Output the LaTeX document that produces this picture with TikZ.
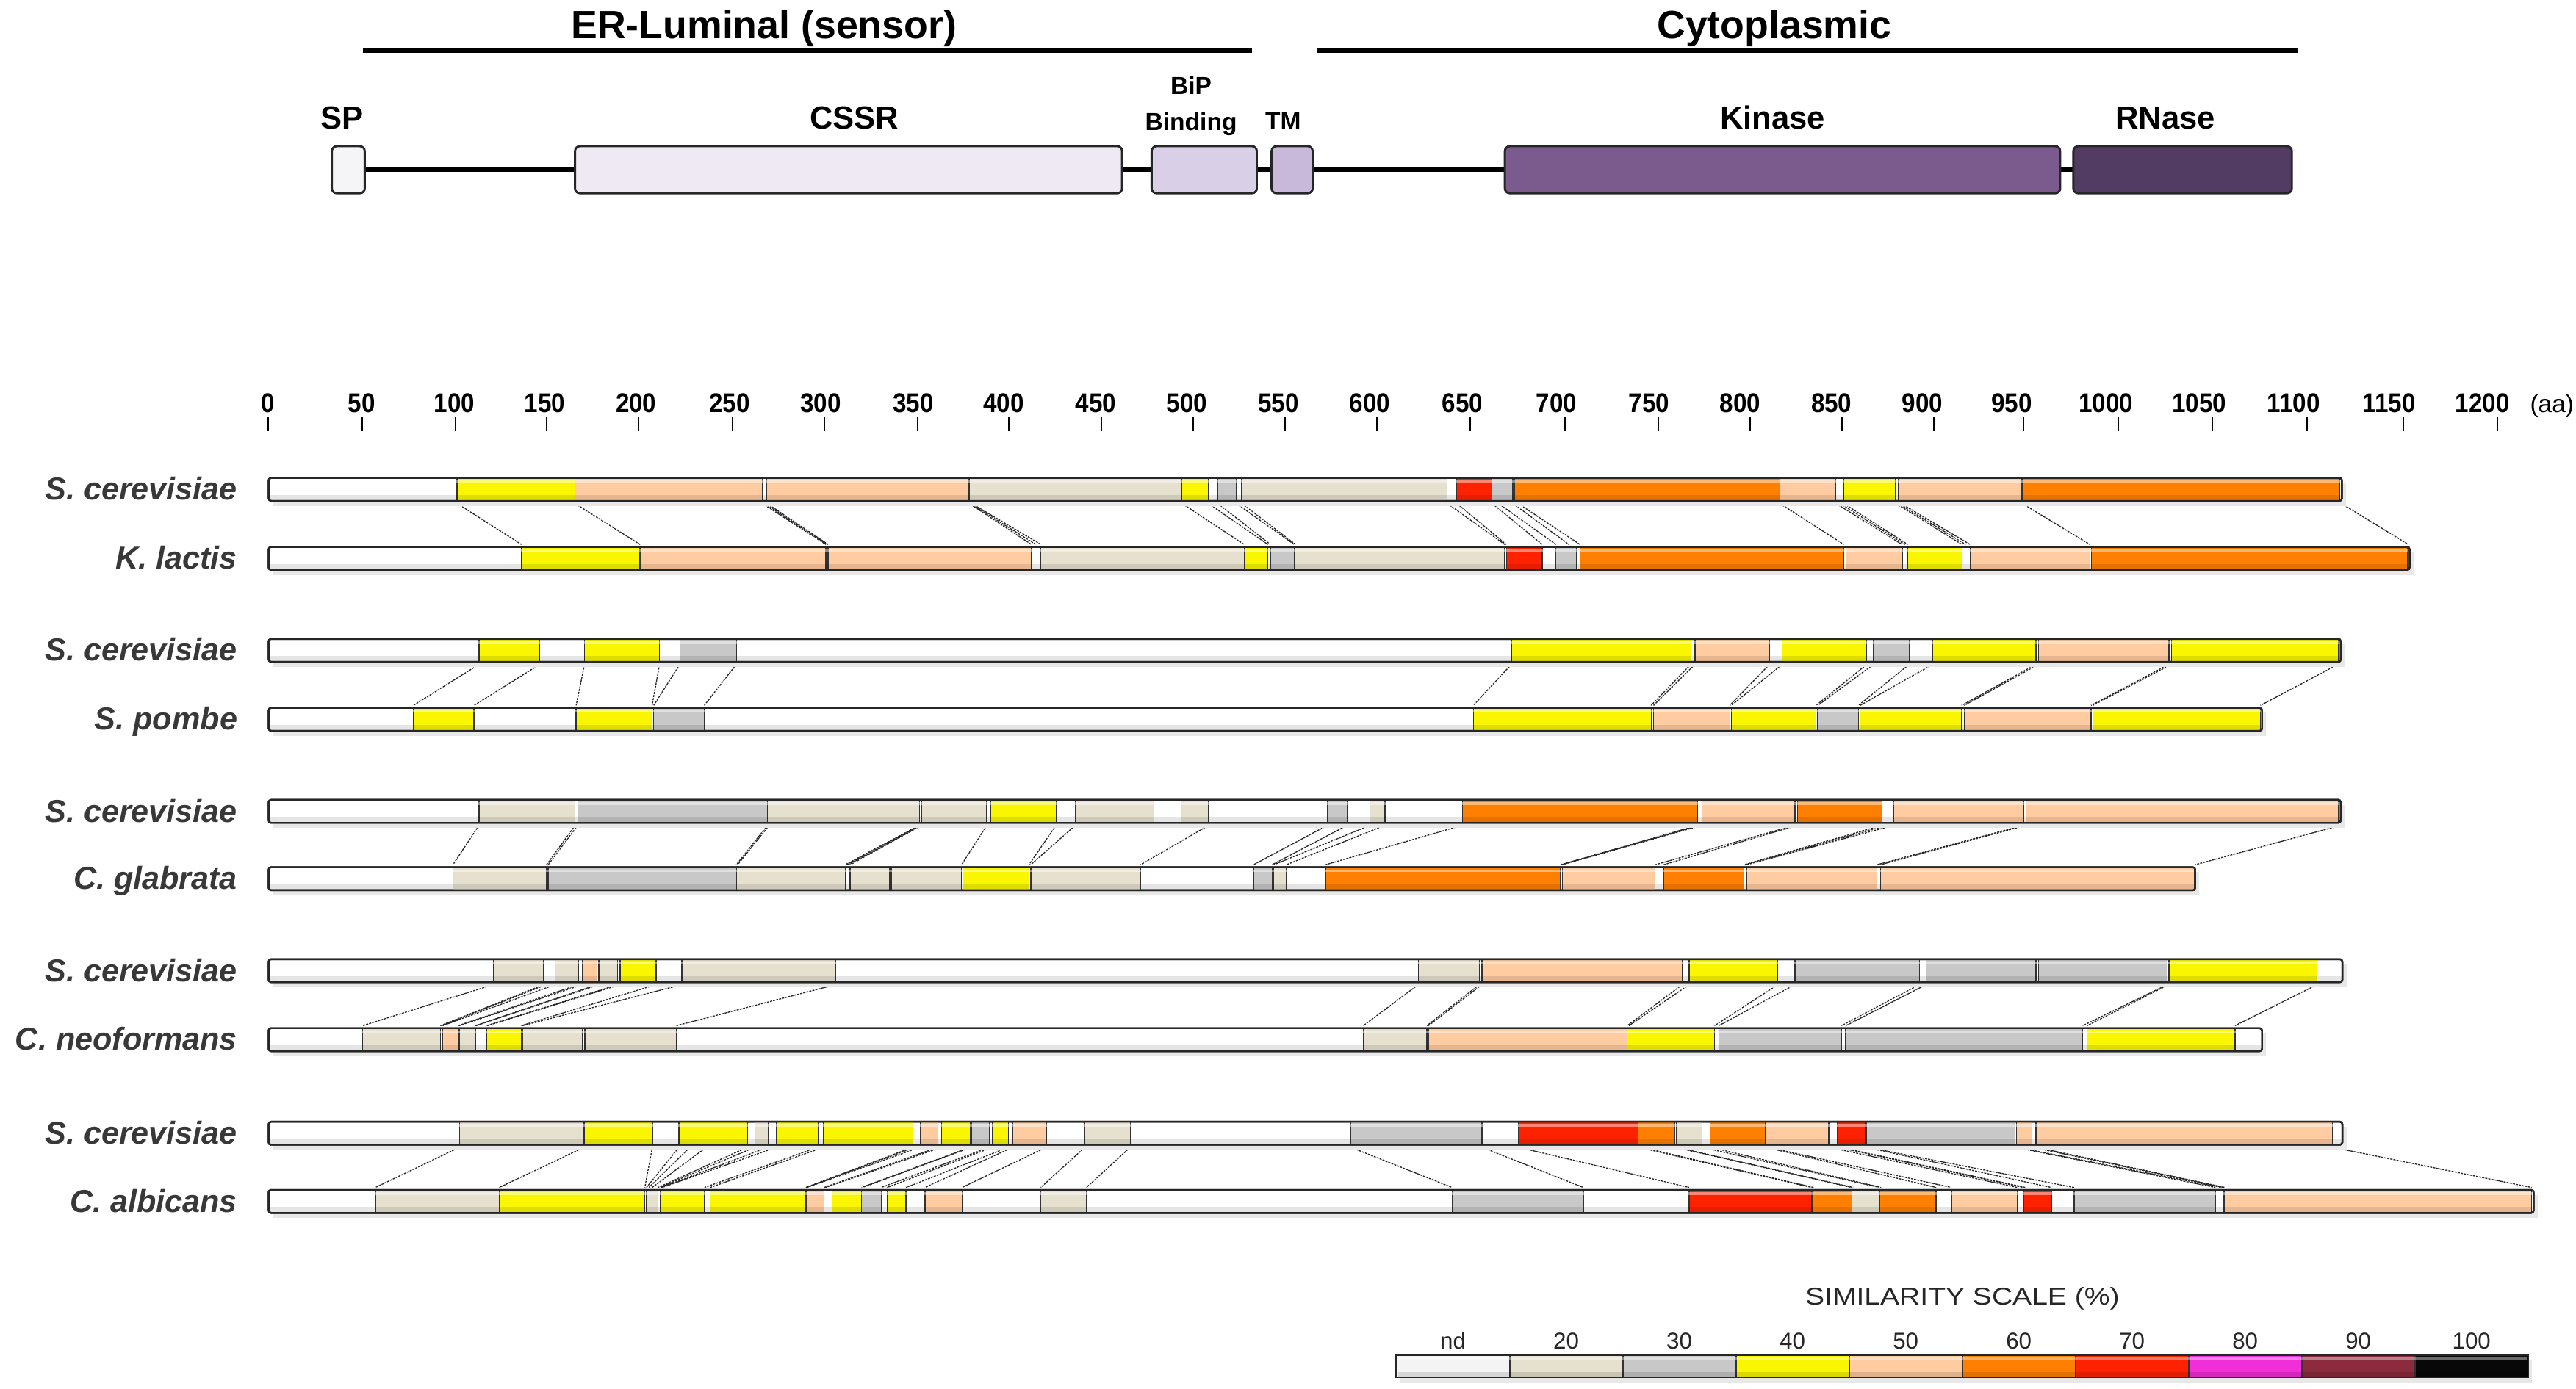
\documentclass[tikz,border=0pt]{standalone}
\usepackage{fontspec}
\setmainfont{Liberation Sans}
\newfontfamily\widefont[FakeStretch=1.18]{Liberation Sans}
\newfontfamily\narrowfont[FakeStretch=0.9]{Liberation Sans}
\definecolor{cN}{HTML}{F4F4F4}
\definecolor{cB}{HTML}{E6E0CE}
\definecolor{cG}{HTML}{C8C8C8}
\definecolor{cY}{HTML}{F9F600}
\definecolor{cP}{HTML}{FFCBA0}
\definecolor{cO}{HTML}{FF8000}
\definecolor{cR}{HTML}{FF2200}
\definecolor{cM}{HTML}{F22ED8}
\definecolor{cV}{HTML}{8B2B3D}
\definecolor{cK}{HTML}{080808}
\definecolor{dSP}{HTML}{F5F4F7}
\definecolor{dCS}{HTML}{EFE9F4}
\definecolor{dBP}{HTML}{D9CFE6}
\definecolor{dTM}{HTML}{C8B8DA}
\definecolor{dKI}{HTML}{7B5B8E}
\definecolor{dRN}{HTML}{533C63}
\tikzset{
  barline/.style={draw=black!85, line width=1.1pt},
  segline/.style={draw=black!80, line width=0.6pt},
  lnk/.style={draw=black!85, line width=0.6pt, dash pattern=on 1.3pt off 0.6pt},
  dombox/.style={draw=black!85, line width=1.3pt, rounded corners=3pt},
  species/.style={anchor=base east, font=\fontsize{19.3}{21}\selectfont\bfseries\itshape, text=black!78},
  ticklbl/.style={anchor=base, font=\narrowfont\fontsize{16.5}{18}\selectfont\bfseries},
  aalbl/.style={anchor=base west, font=\fontsize{15}{17}\selectfont},
  domlbl/.style={anchor=base, font=\fontsize{19.5}{22}\selectfont\bfseries},
  smalldom/.style={anchor=base, font=\fontsize{15}{17}\selectfont\bfseries},
  regionlbl/.style={anchor=base, font=\fontsize{24}{28}\selectfont\bfseries},
  leglbl/.style={anchor=base, font=\fontsize{14}{16}\selectfont, text=black!85},
  legtitle/.style={anchor=base, font=\widefont\fontsize{14.8}{17}\selectfont, text=black!85}
}
\newcommand\protbar[3]{%
  \fill[black!9] (166,#1-4) rectangle (#2+2.5,#1+10);
  \draw[barline,fill=white,rounded corners=1.5pt] (163.5,#1-7) rectangle (#2,#1+7);
  \foreach \xa/\xb/\cl in {#3}{\draw[segline,fill=\cl] (\xa,#1-7) rectangle (\xb,#1+7);}
  \fill[white,opacity=0.45] (164.5,#1-5.6) rectangle (#2-1,#1-4);
  \fill[black,opacity=0.10] (164.2,#1+3.5) rectangle (#2-0.6,#1+6.4);
  \draw[barline,rounded corners=1.5pt] (163.5,#1-7) rectangle (#2,#1+7);
}
\newcommand\links[3]{\foreach \xa/\xb in {#3}{\draw[lnk] (\xa,#1+8.5) -- (\xb,#2-8.5);}}
\begin{document}
\begin{tikzpicture}[x=1pt,y=-1pt]
\useasboundingbox[fill=white] (0,0) rectangle (1568,845.7);

% ---------- domain architecture ----------
\node[regionlbl] (erl) at (465,23.5) {ER-Luminal (sensor)};
\node[regionlbl] (cyt) at (1080,23.5) {Cytoplasmic};
\draw[line width=3pt] (221,30.5) -- (762,30.5);
\draw[line width=3pt] (802,30.5) -- (1399,30.5);

\draw[line width=3pt] (212,103.3) -- (1330,103.3);
\draw[dombox,fill=dSP] (202,89) rectangle (222,117.7);
\draw[dombox,fill=dCS] (350,89) rectangle (683,117.7);
\draw[dombox,fill=dBP] (701,89) rectangle (765,117.7);
\draw[dombox,fill=dTM] (774,89) rectangle (799,117.7);
\draw[dombox,fill=dKI] (916,89) rectangle (1254,117.7);
\draw[dombox,fill=dRN] (1262,89) rectangle (1395,117.7);

\node[domlbl] (lsp) at (208,78.5) {SP};
\node[domlbl] (lcssr) at (520,78.5) {CSSR};
\node[smalldom] (lbip) at (725,57.5) {BiP};
\node[smalldom] (lbind) at (725,79.5) {Binding};
\node[smalldom] (ltm) at (781,79) {TM};
\node[domlbl] (lkin) at (1079,78.5) {Kinase};
\node[domlbl] (lrn) at (1318,78.5) {RNase};

% ---------- axis ----------
\foreach \v/\xx in {0/163.3,50/220.5,100/277.3,150/332.8,200/388.7,250/445.9,300/501.8,350/558.6,400/614,450/670.4,500/726.3,550/782.3,600/838.3,650/895,700/952.6,750/1009.4,800/1065.3,850/1121.2,900/1177,950/1231.7,1000/1289.4,1050/1346.6,1100/1404.3,1150/1462.9,1200/1520}{
  \node[ticklbl] (t\v) at (\xx-0.0075*\v,251.3) {\v};
  \draw[line width=1pt] (\xx,254) -- (\xx,262.5);
}
\node[aalbl] (aa) at (1536.5,251.3) {(aa)};

% ---------- species labels ----------
\node[species] (s1) at (148,304.5) {S. cerevisiae};
\node[species] (s2) at (148,346.5) {K. lactis};
\node[species] (s3) at (148,402.5) {S. cerevisiae};
\node[species] (s4) at (148,444.5) {S. pombe};
\node[species] (s5) at (148,500.5) {S. cerevisiae};
\node[species] (s6) at (148,541.5) {C. glabrata};
\node[species] (s7) at (148,597.5) {S. cerevisiae};
\node[species] (s8) at (148,639.5) {C. neoformans};
\node[species] (s9) at (148,696.5) {S. cerevisiae};
\node[species] (s10) at (148,738) {C. albicans};

% ---------- links ----------
\links{298}{340}{278.2/317.4, 349.9/389.6, 463.9/502.7, 465.4/503.4, 466.8/504.1, 589.9/627.8, 590.6/630.5, 591.3/633.6, 719.4/757.3, 735.4/771.8, 741.2/773.3, 752.4/787.8, 755.8/788.6, 880.9/915.9, 886.7/916.9, 908.2/938.8, 912/947.1, 920.8/955, 924/961.7, 1083.3/1122.3, 1117.4/1157.8, 1120/1159.5, 1122.2/1161.2, 1153.9/1194.2, 1155.3/1196.5, 1157/1199.1, 1230.8/1272.1, 1425/1466}
\links{396}{438}{291.6/251.6, 328.6/288.5, 355.8/350.7, 401.5/396.9, 413.8/397.9, 448.2/428.7, 920/896.8, 1029.2/1005, 1031.7/1006.5, 1077.1/1052.9, 1084.8/1053.9, 1136.3/1105.4, 1140.4/1106.5, 1162.1/1131.2, 1176.5/1132.2, 1239.3/1194, 1240.9/1195.6, 1320.2/1272.8, 1321.8/1273.9, 1423.2/1375.9}
\links{494}{535}{291.6/275.7, 350.1/332.7, 351.7/333.7, 467.2/448.2, 468.2/449, 559.6/514.4, 560.1/515.4, 560.6/516.4, 561.1/517.5, 600.7/585.3, 642.8/626.3, 654.6/627.4, 735.7/694.3, 808/763, 820/774.3, 834/775.4, 843/783, 890.1/806.8, 1033.3/949.9, 1034.6/950.4, 1035.9/950.9, 1092.5/1007.5, 1094.1/1012.7, 1145.6/1061.6, 1149/1062.4, 1152.8/1063.2, 1231.6/1142.5, 1233.2/1144.6, 1424.8/1336.2}
\links{591}{633}{300.2/220.8, 331/268, 332.5/268.7, 337.8/269.4, 352/278.8, 354.6/279.5, 363.5/289.3, 364.5/289.8, 376/296, 377.5/296.6, 399.3/317.3, 415/318, 508.6/411.7, 863.3/829.8, 900.4/868.5, 902/869.5, 1024/990.5, 1028.2/991.5, 1082.2/1043.6, 1092.5/1046.2, 1168.3/1120.9, 1172.4/1123.5, 1319.2/1267.7, 1320.2/1270.3, 1410.4/1360.4}
\links{690}{731.5}{279.7/228.5, 355.6/303.9, 397.1/392.5, 413.3/393.5, 420/395, 430/397, 455/400.5, 459.4/401.7, 467.5/402.5, 472.7/403, 497.9/428.8, 501.4/432.3, 555.6/490.5, 557/490.8, 560.2/491.1, 571/501.6, 573.2/502.5, 590.5/524.4, 591.3/525, 602.2/536.4, 604.1/540, 613.8/551.5, 616.5/563, 636.9/585.6, 660.4/633.5, 688/661.3, 822.1/883.9, 902/963.8, 924.1/1028.2, 997.2/1102.8, 999/1104, 1019.4/1127.1, 1020.4/1128, 1035.9/1144, 1041/1145, 1074.5/1178.5, 1076/1187.8, 1113.1/1228, 1118.3/1231.6, 1120/1233, 1135.3/1248.6, 1136.3/1262.5, 1226.5/1348.5, 1227.5/1352, 1236.8/1353.7, 1239.3/1354.5, 1419.6/1541}

% ---------- bars ----------
\protbar{298}{1425.5}{278.2/349.9/cY, 349.9/463.9/cP, 466.8/589.9/cP, 589.9/719.4/cB, 719.4/735.4/cY, 741.2/752.4/cG, 755.8/880.9/cB, 886.7/908.2/cR, 908.2/920.8/cG, 921.8/1083.3/cO, 1083.3/1117.4/cP, 1122.2/1153.9/cY, 1155.3/1230.8/cP, 1230.8/1424/cO}
\protbar{340}{1466.7}{317.4/389.6/cY, 389.6/502.7/cP, 504.1/627.8/cP, 633.6/757.3/cB, 757.3/771.8/cY, 773.3/787.8/cG, 787.8/915.9/cB, 916.9/938.8/cR, 947.1/959.7/cG, 961.7/1122.3/cO, 1123.7/1157.8/cP, 1161.2/1194.2/cY, 1199.1/1272.1/cP, 1273/1465.2/cO}
\protbar{396}{1424.8}{291.6/328.6/cY, 355.8/401.5/cY, 413.8/448.2/cG, 920/1029.2/cY, 1031.7/1077.1/cP, 1084.8/1136.3/cY, 1140.4/1162.1/cG, 1176.5/1239.3/cY, 1240.9/1320.2/cP, 1321.8/1423.2/cY}
\protbar{438}{1376.9}{251.6/288.5/cY, 350.7/396.9/cY, 397.9/428.7/cG, 896.8/1005/cY, 1006.5/1052.9/cP, 1053.9/1105.4/cY, 1106.5/1131.2/cG, 1132.2/1194/cY, 1195.6/1272.8/cP, 1273.9/1375.9/cY}
\protbar{494}{1424.8}{291.6/350.1/cB, 351.7/467.2/cG, 467.2/559.6/cB, 561.1/600.7/cB, 603.2/642.8/cY, 654.6/702.3/cB, 718.8/735.7/cB, 808/820/cG, 834/843/cB, 890.1/1033.3/cO, 1035.9/1092.5/cP, 1094.1/1145.6/cO, 1152.8/1231.6/cP, 1233.2/1423.5/cP}
\protbar{535}{1336.2}{275.7/332.7/cB, 333.7/448.2/cG, 448.2/514.4/cB, 517.5/541.6/cB, 542.6/585.3/cB, 586.2/626.3/cY, 627.4/694.3/cB, 763/774.3/cG, 775.4/783/cB, 806.8/949.9/cO, 950.9/1007.5/cP, 1012.7/1061.6/cO, 1063.2/1142.5/cP, 1144.6/1335.7/cP}
\protbar{591}{1425.8}{300.3/331/cB, 337.8/352/cB, 354.6/363.5/cP, 364.5/376/cB, 377.5/399.3/cY, 415/508.6/cB, 863.3/900.4/cB, 902/1024/cP, 1028.2/1082.2/cY, 1092.5/1168.3/cG, 1172.4/1239.3/cG, 1240.9/1319.2/cG, 1320.2/1410.4/cY}
\protbar{633}{1376.9}{220.8/268/cB, 269.4/278.8/cP, 279.5/289.3/cB, 296/317.3/cY, 318/354.5/cB, 356/411.7/cB, 829.8/868.5/cB, 869.5/990.5/cP, 990.5/1043.6/cY, 1046.2/1120.9/cG, 1123.5/1267.7/cG, 1270.3/1360.4/cY}
\protbar{690}{1425.8}{279.7/355.6/cB, 355.6/397.1/cY, 413.3/455/cY, 459.4/467.5/cB, 472.7/497.9/cY, 501.4/555.6/cY, 560.2/571/cP, 573.2/590.5/cY, 591.3/602.2/cG, 604.1/613.8/cY, 616.5/636.9/cP, 660.4/688/cB, 822.1/902/cG, 924.1/997.2/cR, 997.2/1019.4/cO, 1020.4/1035.9/cB, 1041/1074.5/cO, 1074.5/1113.1/cP, 1118.3/1135.3/cR, 1136.3/1226.5/cG, 1227.5/1236.8/cP, 1239.3/1419.6/cP}
\protbar{731.5}{1542.2}{228.5/303.9/cB, 303.9/392.5/cY, 393.5/400.5/cB, 401.7/428.8/cY, 432.3/490.5/cY, 491.1/501.6/cP, 506.5/524.4/cY, 524.4/536.4/cG, 540/551.5/cY, 563/585.6/cP, 633.5/661.3/cB, 883.9/963.8/cG, 1028.2/1102.8/cR, 1102.8/1127.1/cO, 1127.1/1144/cB, 1144/1178.5/cO, 1187.8/1228/cP, 1231.6/1248.6/cR, 1262.5/1348.5/cG, 1353.7/1541/cP}

% ---------- legend ----------
\node[legtitle] (legt) at (1194.5,794.5) {SIMILARITY SCALE (\%)};
\fill[black!9] (852,828) rectangle (1541,842);
\foreach \i/\cl/\lb in {0/cN/nd,1/cB/20,2/cG/30,3/cY/40,4/cP/50,5/cO/60,6/cR/70,7/cM/80,8/cV/90,9/cK/100}{
  \draw[segline,fill=\cl,line width=0.9pt] (850+68.88*\i,825) rectangle (918.88+68.88*\i,838.5);
  \node[leglbl] (lg\i) at (884.44+68.88*\i,821.4) {\lb};
}
\fill[white,opacity=0.4] (851,826.2) rectangle (1537.8,827.8);
\fill[black,opacity=0.12] (851,835.5) rectangle (1537.8,838);
\draw[draw=black!85,line width=1.1pt] (850,825) rectangle (1538.8,838.5);
\end{tikzpicture}
\end{document}
